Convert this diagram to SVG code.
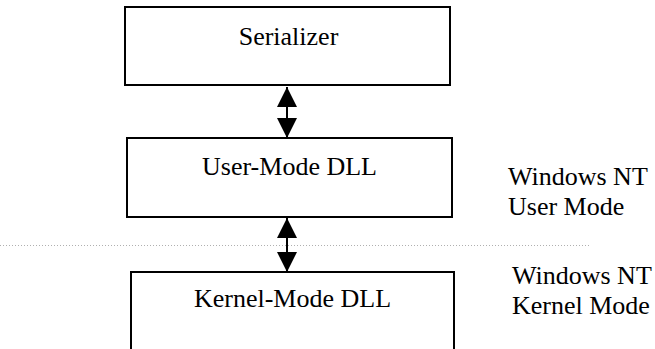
<svg xmlns="http://www.w3.org/2000/svg" width="655" height="349" viewBox="0 0 655 349">
<style>
.box{fill:#fff;stroke:#000;stroke-width:2}
.t{font-family:"Liberation Serif","Times New Roman",serif;font-size:26px;fill:#000}
.c{stroke:#000;stroke-width:2;fill:none}
</style>
<defs>
<marker id="ah" viewBox="0 0 20 20" refX="20" refY="10" markerWidth="20" markerHeight="20" markerUnits="userSpaceOnUse" orient="auto-start-reverse">
<path d="M0,0 L20,10 L0,20 Z" fill="#000"/>
</marker>
</defs>
<rect width="655" height="349" fill="#fff"/>
<line x1="0" y1="245.5" x2="590" y2="245.5" stroke="#b0b0b0" stroke-width="1" stroke-dasharray="1,2"/>
<g id="serializer">
<rect class="box" x="125" y="7" width="325" height="78"/>
<text class="t" x="288.5" y="45" text-anchor="middle">Serializer</text>
</g>
<g id="user-dll">
<rect class="box" x="127" y="138" width="325" height="79"/>
<text class="t" x="289.5" y="175" text-anchor="middle">User-Mode DLL</text>
</g>
<g id="kernel-dll">
<rect class="box" x="131" y="272" width="323" height="90"/>
<text class="t" x="292.5" y="307" text-anchor="middle">Kernel-Mode DLL</text>
</g>
<g id="user-label">
<text class="t" x="508" y="185">Windows NT</text>
<text class="t" x="508" y="215">User Mode</text>
</g>
<g id="kernel-label">
<text class="t" x="512" y="284">Windows NT</text>
<text class="t" x="512" y="314">Kernel Mode</text>
</g>
<g id="connectors">
<line class="c" x1="287" y1="87" x2="287" y2="138" marker-start="url(#ah)" marker-end="url(#ah)"/>
<line class="c" x1="287" y1="218" x2="287" y2="272" marker-start="url(#ah)" marker-end="url(#ah)"/>
</g>
</svg>
